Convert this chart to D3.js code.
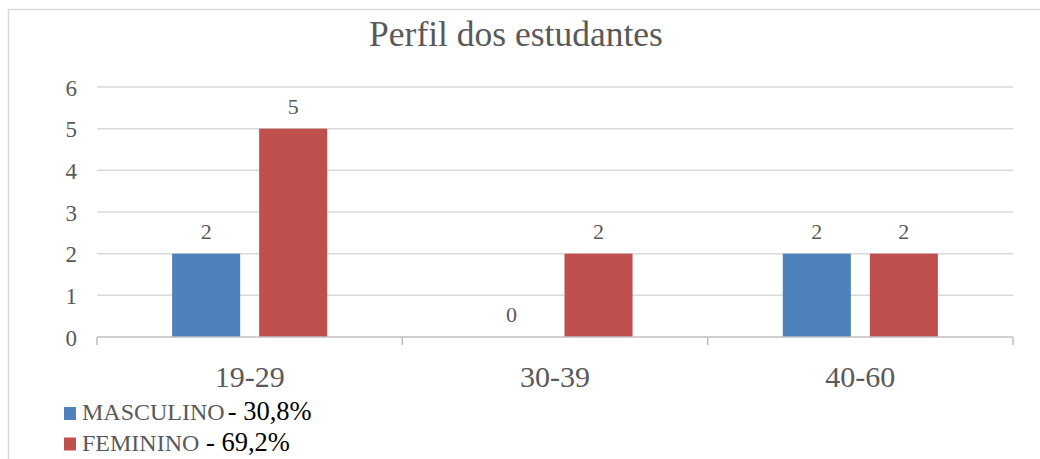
<!DOCTYPE html>
<html>
<head>
<meta charset="utf-8">
<title>Perfil dos estudantes</title>
<script src="https://cdn.jsdelivr.net/npm/d3@7"></script>
<style>
  body { margin: 0; background: #fff; }
  svg { display: block; font-family: "Liberation Serif", "Times New Roman", serif; }
</style>
</head>
<body>
<script>
// dados do gráfico
const categorias = ["19-29", "30-39", "40-60"];
const series = ["MASCULINO", "FEMININO"];
const masculino = [2, 0, 2];
const feminino = [5, 2, 2];
const percentuais = ["- 30,8%", "- 69,2%"];
const yTicks = [0, 1, 2, 3, 4, 5, 6];
const cores = ["#4f81bd", "#c0504d"];

const w = 1040, h = 459;
const mLeft = 97, mRight = 1013, mTop = 87, mBottom = 337;
const cinza = "#595959";

const svg = d3.select("body").append("svg")
  .attr("width", w).attr("height", h);

// moldura do gráfico (cortada à direita e embaixo)
svg.append("rect")
  .attr("x", 8.5).attr("y", 9.5)
  .attr("width", 1100).attr("height", 500)
  .attr("fill", "#fff").attr("stroke", "#d9d9d9").attr("stroke-width", 1.5);

// título
svg.append("text")
  .attr("x", 516).attr("y", 46)
  .attr("text-anchor", "middle")
  .attr("font-size", 35.5)
  .attr("fill", cinza)
  .text("Perfil dos estudantes");

const y = d3.scaleLinear().domain([0, 6]).range([mBottom, mTop]);
const x0 = d3.scaleBand().domain(categorias).range([mLeft, mRight]);
const bw = x0.bandwidth();
const x1 = d3.scaleBand().domain(series)
  .range([bw * 0.246, bw - bw * 0.246])
  .paddingInner(0.218);

// linhas de grade
svg.append("g")
  .selectAll("line")
  .data(yTicks.filter(d => d > 0))
  .enter().append("line")
  .attr("x1", mLeft).attr("x2", mRight)
  .attr("y1", d => y(d)).attr("y2", d => y(d))
  .attr("stroke", "#d9d9d9").attr("stroke-width", 1.5);

// rótulos do eixo y
svg.append("g")
  .selectAll("text")
  .data(yTicks)
  .enter().append("text")
  .attr("x", 77).attr("y", d => y(d) + 8.5)
  .attr("text-anchor", "end")
  .attr("font-size", 23)
  .attr("fill", cinza)
  .text(d => d);

// barras
const dados = categorias.map((c, i) => ({ cat: c, valores: [masculino[i], feminino[i]] }));

const grupos = svg.append("g")
  .selectAll("g")
  .data(dados)
  .enter().append("g")
  .attr("transform", d => "translate(" + x0(d.cat) + ",0)");

grupos.selectAll("rect")
  .data(d => d.valores.map((v, j) => ({ serie: series[j], v: v, j: j })))
  .enter().append("rect")
  .attr("x", d => x1(d.serie))
  .attr("y", d => y(d.v))
  .attr("width", x1.bandwidth())
  .attr("height", d => mBottom - y(d.v))
  .attr("fill", d => cores[d.j]);

grupos.selectAll("text")
  .data(d => d.valores.map((v, j) => ({ serie: series[j], v: v, j: j })))
  .enter().append("text")
  .attr("x", d => x1(d.serie) + x1.bandwidth() / 2)
  .attr("y", d => y(d.v) - 15)
  .attr("text-anchor", "middle")
  .attr("font-size", 22)
  .attr("fill", cinza)
  .text(d => d.v);

// eixo x
const eixo = svg.append("g").attr("stroke", "#bfbfbf").attr("stroke-width", 1.5);
eixo.append("line")
  .attr("x1", mLeft).attr("x2", mRight)
  .attr("y1", mBottom).attr("y2", mBottom);
eixo.selectAll(".tick")
  .data(categorias.map(c => x0(c)).concat([mRight]))
  .enter().append("line")
  .attr("x1", d => d).attr("x2", d => d)
  .attr("y1", mBottom).attr("y2", mBottom + 8);

svg.append("g")
  .selectAll("text")
  .data(categorias)
  .enter().append("text")
  .attr("x", d => x0(d) + bw / 2)
  .attr("y", 387)
  .attr("text-anchor", "middle")
  .attr("font-size", 30)
  .attr("fill", cinza)
  .text(d => d);

// legenda
const leg = svg.append("g")
  .selectAll("g")
  .data(series)
  .enter().append("g")
  .attr("transform", (d, i) => "translate(64," + (407 + i * 30.5) + ")");

leg.append("rect")
  .attr("width", 12).attr("height", 13)
  .attr("fill", (d, i) => cores[i]);

const lt = leg.append("text")
  .attr("x", 18).attr("y", 13)
  .attr("font-size", 24);
lt.append("tspan")
  .attr("fill", cinza)
  .text(d => d);
lt.append("tspan")
  .attr("fill", "#000")
  .attr("font-size", 26.5)
  .attr("dx", (d, i) => i === 0 ? 3 : 0)
  .text((d, i) => (i === 0 ? "" : " ") + percentuais[i]);
</script>
</body>
</html>
